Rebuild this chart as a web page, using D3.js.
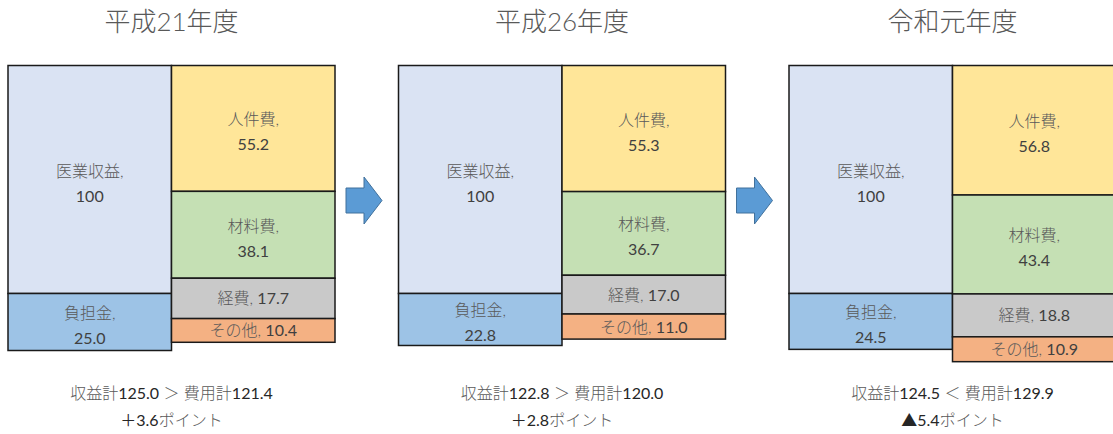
<!DOCTYPE html>
<html>
<head>
<meta charset="utf-8">
<script src="https://cdn.jsdelivr.net/npm/d3@7"></script>
<style>
html,body{margin:0;padding:0;background:#fff;}
svg{display:block;}
</style>
</head>
<body>
<svg id="chart" width="1113" height="434"></svg>
<script>
// ---- data ----
const years = ["平成21年度", "平成26年度", "令和元年度"];
const revenueNames = ["医業収益", "負担金"];
const revenueValues = [[100, 25.0], [100, 22.8], [100, 24.5]];
const expenseNames = ["人件費", "材料費", "経費", "その他"];
const expenseValues = [[55.2, 38.1, 17.7, 10.4], [55.3, 36.7, 17.0, 11.0], [56.8, 43.4, 18.8, 10.9]];
const revenueTotals = ["125.0", "122.8", "124.5"];
const expenseTotals = ["121.4", "120.0", "129.9"];
const comparators = ["＞", "＞", "＜"];
const differences = ["＋3.6", "＋2.8", "▲5.4"];

// ---- styles ----
const revenueColors = ["#dae3f3", "#9dc3e6"];
const expenseColors = ["#ffe699", "#c5e0b4", "#c9c9c9", "#f4b183"];
const fontStack = "Lato, 'Noto Sans CJK JP', sans-serif";

const svg = d3.select("#chart");
const panelX = d3.scalePoint().domain(years).range([8, 789]);
const colW = 163.5;
const y = d3.scaleLinear().domain([0, 140]).range([65.5, 65.5 + 140 * 2.28]);

function fmt(v) { return v >= 100 ? String(Math.round(v)) : v.toFixed(1); }

function drawColumn(g, x, names, values, colors) {
  let cum = 0;
  values.forEach((v, i) => {
    const y0 = y(cum), y1 = y(cum + v);
    cum += v;
    g.append("rect")
      .attr("x", x).attr("y", y0)
      .attr("width", colW).attr("height", y1 - y0)
      .attr("fill", colors[i])
      .attr("stroke", "#1a1a1a").attr("stroke-width", 1.5);
    const cx = x + colW / 2, cy = (y0 + y1) / 2;
    const t = g.append("text")
      .attr("text-anchor", "middle")
      .attr("font-family", fontStack)
      .attr("font-size", 16)
      .attr("font-weight", 300)
      .attr("fill", "#595959");
    if (y1 - y0 > 45) {
      t.append("tspan").attr("x", cx).attr("y", cy - 3).text(names[i] + ",");
      t.append("tspan").attr("x", cx).attr("y", cy + 22).attr("font-weight", 400).attr("fill", "#404040").text(fmt(v));
    } else {
      t.attr("x", cx).attr("y", cy + 6);
      t.append("tspan").text(names[i] + ", ");
      t.append("tspan").attr("font-weight", 400).attr("fill", "#404040").text(fmt(v));
    }
  });
}

years.forEach((yr, p) => {
  const x0 = panelX(yr);
  const g = svg.append("g");
  const center = x0 + colW;
  g.append("text")
    .attr("x", center).attr("y", 31)
    .attr("text-anchor", "middle")
    .attr("font-family", fontStack)
    .attr("font-size", 26)
    .attr("font-weight", 300)
    .attr("fill", "#595959")
    .text(yr);
  drawColumn(g, x0, revenueNames, revenueValues[p], revenueColors);
  drawColumn(g, x0 + colW, expenseNames, expenseValues[p], expenseColors);

  const b1 = g.append("text")
    .attr("x", center).attr("y", 399)
    .attr("text-anchor", "middle")
    .attr("font-family", fontStack)
    .attr("font-size", 16)
    .attr("fill", "#262626");
  b1.append("tspan").attr("fill", "#595959").attr("font-weight", 300).text("収益計");
  b1.append("tspan").text(revenueTotals[p]);
  b1.append("tspan").attr("fill", "#595959").attr("font-weight", 300).text("  " + comparators[p] + " 費用計");
  b1.append("tspan").text(expenseTotals[p]);

  const b2 = g.append("text")
    .attr("x", center).attr("y", 426)
    .attr("text-anchor", "middle")
    .attr("font-family", fontStack)
    .attr("font-size", 16)
    .attr("fill", "#262626");
  b2.append("tspan").text(differences[p]);
  b2.append("tspan").attr("fill", "#595959").attr("font-weight", 300).text("ポイント");

  // arrow to next panel
  if (p < years.length - 1) {
    const ax = x0 + 2 * colW + 11;
    const ay = 200.5;
    const pts = [[0, -12.5], [18, -12.5], [18, -23.5], [36, 0], [18, 23.5], [18, 12.5], [0, 12.5]];
    g.append("path")
      .attr("d", d3.line()(pts.map(d => [ax + d[0], ay + d[1]])) + "Z")
      .attr("fill", "#5b9bd5")
      .attr("stroke", "#41719c")
      .attr("stroke-width", 1);
  }
});
</script>
</body>
</html>
